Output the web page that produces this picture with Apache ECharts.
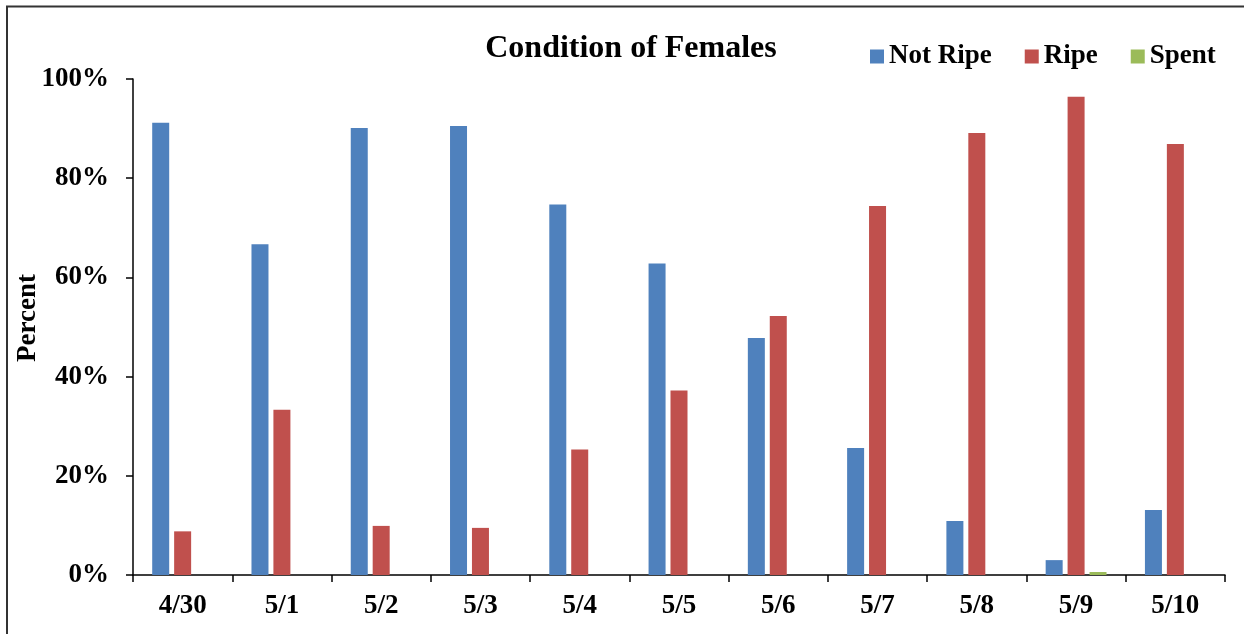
<!DOCTYPE html>
<html>
<head>
<meta charset="utf-8">
<script src="https://cdn.jsdelivr.net/npm/echarts@6/dist/echarts.min.js"></script>
<style>
  html, body { margin: 0; padding: 0; background: #fff; }
  #chart { width: 1244px; height: 634px; }
</style>
</head>
<body>
<div id="chart"></div>
<script>
// Sampling dates
const dates = ['4/30', '5/1', '5/2', '5/3', '5/4', '5/5', '5/6', '5/7', '5/8', '5/9', '5/10'];
// Share of females in each condition, percent
const notRipe = [91.2, 66.7, 90.1, 90.5, 74.7, 62.8, 47.8, 25.6, 10.9, 3.0, 13.1];
const ripe    = [8.8, 33.3, 9.9, 9.5, 25.3, 37.2, 52.2, 74.4, 89.1, 96.4, 86.9];
const spent   = [0, 0, 0, 0, 0, 0, 0, 0, 0, 0.6, 0];
// Y axis ticks
const yTicks = [0, 20, 40, 60, 80, 100];

const serif = '"Liberation Serif", "Times New Roman", serif';
const chart = echarts.init(document.getElementById('chart'), null, { renderer: 'canvas' });

const barStyle = (color) => ({
  type: 'bar',
  barWidth: 17,
  barGap: '29%',
  itemStyle: { color: color },
  emphasis: { disabled: true }
});

chart.setOption({
  animation: false,
  backgroundColor: '#ffffff',
  graphic: [
    {
      type: 'polyline',
      shape: { points: [[7, 640], [7, 6.5], [1250, 6.5]] },
      style: { stroke: '#333', lineWidth: 2, fill: null }
    },
    {
      // y axis title
      type: 'text',
      x: 28,
      y: 318,
      rotation: Math.PI / 2,
      style: {
        text: 'Percent',
        fontFamily: serif, fontWeight: 'bold', fontSize: 27, fill: '#000',
        align: 'center', verticalAlign: 'middle'
      }
    }
  ],
  title: {
    text: 'Condition of Females',
    left: 626,
    textAlign: 'center',
    top: 28,
    textStyle: { fontFamily: serif, fontWeight: 'bold', fontSize: 32, color: '#000' }
  },
  legend: {
    top: 43,
    left: 870,
    padding: 0,
    itemWidth: 14,
    itemHeight: 14,
    itemGap: 33,
    icon: 'rect',
    textStyle: { fontFamily: serif, fontWeight: 'bold', fontSize: 27, color: '#000' },
    data: ['Not Ripe', 'Ripe', 'Spent']
  },
  grid: { left: 133, right: 19, top: 79, bottom: 59, containLabel: false },
  xAxis: {
    type: 'category',
    data: dates,
    boundaryGap: true,
    axisLine: { lineStyle: { color: '#000', width: 1.5 } },
    axisTick: { show: true, length: 7, alignWithLabel: false, lineStyle: { color: '#000', width: 1.5 } },
    axisLabel: { margin: 18, fontFamily: serif, fontWeight: 'bold', fontSize: 27, color: '#000' },
    splitLine: { show: false }
  },
  yAxis: {
    type: 'value',
    min: yTicks[0],
    max: yTicks[yTicks.length - 1],
    interval: 20,
    axisLine: { show: true, lineStyle: { color: '#000', width: 1.5 } },
    axisTick: { show: true, length: 7, lineStyle: { color: '#000', width: 1.5 } },
    axisLabel: { margin: 24, formatter: '{value}%', fontFamily: serif, fontWeight: 'bold', fontSize: 27, color: '#000' },
    splitLine: { show: false }
  },
  series: [
    Object.assign({ name: 'Not Ripe', data: notRipe }, barStyle('#4F81BD')),
    Object.assign({ name: 'Ripe', data: ripe }, barStyle('#C0504D')),
    Object.assign({ name: 'Spent', data: spent }, barStyle('#9BBB59'))
  ]
});
</script>
</body>
</html>
